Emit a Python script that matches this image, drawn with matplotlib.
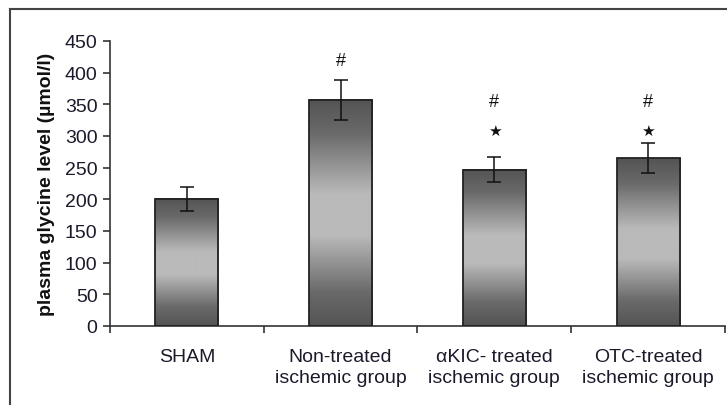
import numpy as np
import matplotlib
matplotlib.use("Agg")
import matplotlib.pyplot as plt
from matplotlib.colors import LinearSegmentedColormap
from matplotlib.patches import Rectangle

categories = ["SHAM", "Non-treated\nischemic group", "\u03b1KIC- treated\nischemic group", "OTC-treated\nischemic group"]
values = [201, 357, 247, 265]
errors = [19, 31, 20, 24]
marks = ["", "#", "#*", "#*"]
yticks = [0, 50, 100, 150, 200, 250, 300, 350, 400, 450]

plt.rcParams['font.family'] = ['Liberation Sans', 'DejaVu Sans']

fig = plt.figure(figsize=(7.27, 4.06), dpi=100)
ax = fig.add_axes([0.1513, 0.1946, 0.8459, 0.702])

x = np.arange(len(categories))
width = 0.41
cmap = LinearSegmentedColormap.from_list(
    "g", [(0.0, "#545454"), (0.15, "#6a6a6a"), (0.42, "#bababa"), (0.6, "#bababa"),
          (0.85, "#6a6a6a"), (1.0, "#545454")])
grad = np.linspace(0, 1, 256).reshape(-1, 1)

for xi, v in zip(x, values):
    ax.imshow(grad, cmap=cmap, aspect='auto', extent=[xi - width/2, xi + width/2, 0, v],
              origin='upper', zorder=2)
    ax.add_patch(Rectangle((xi - width/2, 0), width, v, fill=False, edgecolor='#222222', lw=1.3, zorder=3))

ax.errorbar(x, values, yerr=errors, fmt='none', ecolor='#111111', elinewidth=1.1, capsize=5, capthick=1.1, zorder=4)

for xi, m in zip(x, marks):
    if m == "#":
        ax.text(xi, 419, "#", ha='center', va='center', fontsize=13, color='#111111')
    elif m:
        ax.text(xi, 354, "#", ha='center', va='center', fontsize=13, color='#111111')
        ax.text(xi, 308, "\u2605", ha='center', va='center', fontsize=11, color='#111111', family='DejaVu Sans')

ax.set_xlim(-0.5, len(categories) - 0.5)
ax.set_ylim(0, 450)
ax.set_yticks(yticks)
ax.set_yticklabels([str(t) for t in yticks], fontsize=14, color='#1a1a2a')
ax.set_xticks(x)
ax.set_xticklabels(categories, fontsize=14, color='#1a1a2a', linespacing=1.3)
ax.set_xticks(np.arange(len(categories) + 1) - 0.5, minor=True)
ax.tick_params(axis='x', which='major', length=0, pad=16)
ax.tick_params(axis='x', which='minor', length=5, width=1.2, color='#333333', direction='out')
ax.tick_params(axis='y', length=5, width=1.2, color='#333333', direction='out', pad=4)
ax.set_ylabel("plasma glycine level (\u00b5mol/l)", fontsize=14, fontweight='bold', color='#111111', labelpad=7)

for s in ['top', 'right']:
    ax.spines[s].set_visible(False)
for s in ['left', 'bottom']:
    ax.spines[s].set_color('#333333')
    ax.spines[s].set_linewidth(1.2)

# outer frame
fig.add_artist(plt.Line2D([10/727, 1], [1 - 10/406, 1 - 10/406], transform=fig.transFigure, color='#444444', lw=1.5))
fig.add_artist(plt.Line2D([10/727, 10/727], [0, 1 - 10/406], transform=fig.transFigure, color='#444444', lw=1.5))

fig.savefig("out.png", dpi=100)
